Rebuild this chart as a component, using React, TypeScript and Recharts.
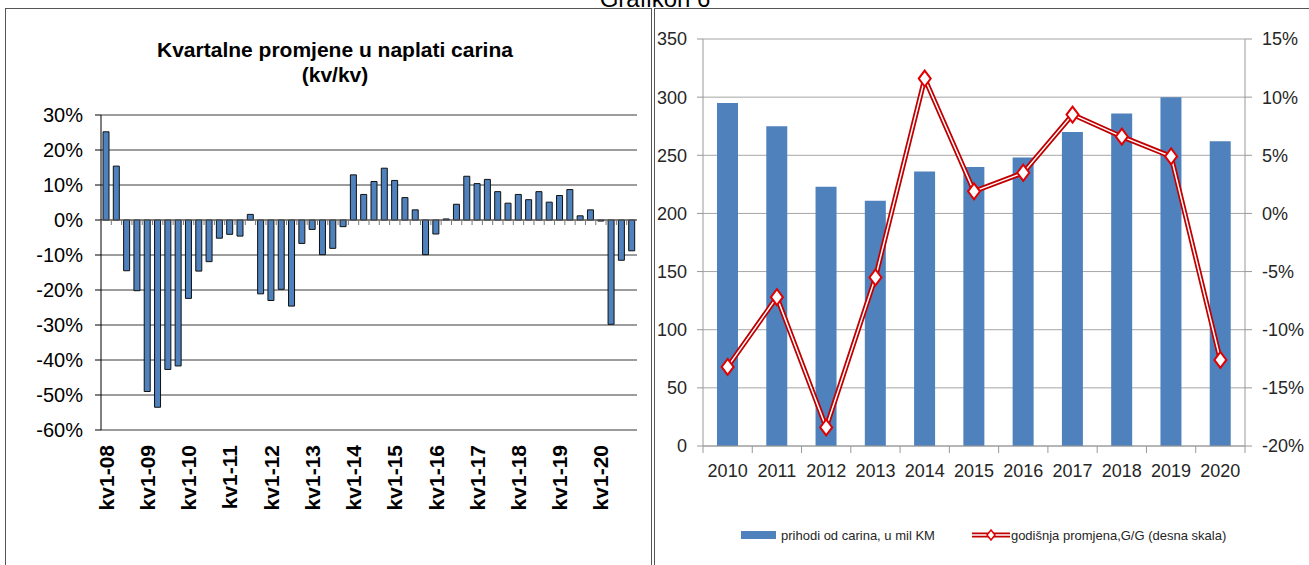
import {
  Bar,
  BarChart,
  CartesianGrid,
  ComposedChart,
  Line,
  ReferenceLine,
  XAxis,
  YAxis,
} from 'recharts'

// left chart: quarterly change, kv/kv (%)
const qYears = ['08', '09', '10', '11', '12', '13', '14', '15', '16', '17', '18', '19', '20']
const qNums = [1, 2, 3, 4]
const qChange = [
  25.2, 15.4, -14.5, -20.2,
  -49.0, -53.5, -42.7, -41.7,
  -22.4, -14.6, -11.9, -5.2,
  -4.1, -4.6, 1.6, -21.1,
  -23.0, -19.8, -24.6, -6.7,
  -2.7, -9.9, -8.1, -1.9,
  12.9, 7.3, 11.0, 14.8,
  11.3, 6.4, 2.9, -9.9,
  -4.0, 0.3, 4.5, 12.5,
  10.4, 11.6, 8.1, 4.8,
  7.3, 5.8, 8.1, 5.1,
  7.0, 8.7, 1.2, 2.9,
  -0.3, -29.8, -11.5, -8.8,
]
const leftTicks = [30, 20, 10, 0, -10, -20, -30, -40, -50, -60]

// right chart: yearly customs revenue + y/y change
const years = ['2010', '2011', '2012', '2013', '2014', '2015', '2016', '2017', '2018', '2019', '2020']
const revenue = [295, 275, 223, 211, 236, 240, 248, 270, 286, 300, 262]
const yoy = [-13.2, -7.2, -18.4, -5.5, 11.6, 1.9, 3.5, 8.5, 6.6, 4.9, -12.6]
const revTicks = [0, 50, 100, 150, 200, 250, 300, 350]
const pctTicks = [-20, -15, -10, -5, 0, 5, 10, 15]

const quarterData = qYears
  .flatMap((y) => qNums.map((q) => `kv${q}-${y}`))
  .map((q, i) => ({ q, v: qChange[i] }))

const yearData = years.map((year, i) => ({ year, rev: revenue[i], chg: yoy[i] }))

const ARIAL = '"Liberation Sans", Arial, sans-serif'
const BLUE = '#4F81BD'
const RED = '#C00000'

const ZERO_Y = 220
const Q_BAND = 536 / 52
const Y_BAND = 542 / 11
const RIGHT_AXIS_Y = 446

function QuarterTick(props: any) {
  const { x, payload, index } = props
  const bx = x - Q_BAND / 2
  return (
    <g>
      <line x1={bx} x2={bx} y1={ZERO_Y} y2={ZERO_Y + 5} stroke="#777" />
      {index % 4 === 0 && (
        <text
          x={x}
          y={445}
          transform={`rotate(-90, ${x}, 445)`}
          textAnchor="end"
          dominantBaseline="central"
          fontFamily={ARIAL}
          fontWeight="bold"
          fontSize={21}
          fill="#000"
        >
          {payload.value}
        </text>
      )}
    </g>
  )
}

function YearTick(props: any) {
  const { x, payload, index } = props
  const bx = x - Y_BAND / 2
  return (
    <g>
      <line x1={bx} x2={bx} y1={RIGHT_AXIS_Y} y2={RIGHT_AXIS_Y + 7} stroke="#999" />
      {index === years.length - 1 && (
        <line
          x1={x + Y_BAND / 2}
          x2={x + Y_BAND / 2}
          y1={RIGHT_AXIS_Y}
          y2={RIGHT_AXIS_Y + 7}
          stroke="#999"
        />
      )}
      <text x={x} y={477} textAnchor="middle" fontFamily={ARIAL} fontSize={18} fill="#262626">
        {payload.value}
      </text>
    </g>
  )
}

function Diamond(props: any) {
  const { cx, cy } = props
  if (cx == null || cy == null) return null
  return (
    <path
      d={`M${cx},${cy - 8} L${cx + 6},${cy} L${cx},${cy + 8} L${cx - 6},${cy} Z`}
      fill="#fff"
      stroke="#E00000"
      strokeWidth={2}
    />
  )
}

function QuarterlyChart() {
  return (
    <div style={{ position: 'absolute', left: 0, top: 0 }}>
      <BarChart
        width={652}
        height={565}
        data={quarterData}
        margin={{ top: 115, right: 15, bottom: 35, left: 41 }}
      >
        <CartesianGrid horizontal vertical={false} stroke="#3a3a3a" />
        <XAxis
          dataKey="q"
          height={100}
          interval={0}
          tickLine={false}
          axisLine={{ stroke: '#999' }}
          tick={<QuarterTick />}
        />
        <YAxis
          domain={[-60, 30]}
          ticks={leftTicks}
          width={60}
          tickSize={6}
          tickMargin={12}
          axisLine={{ stroke: '#000' }}
          tickLine={{ stroke: '#000' }}
          tickFormatter={(v) => `${v}%`}
          tick={{ fontFamily: ARIAL, fontSize: 20, fill: '#000' }}
        />
        <YAxis
          yAxisId="frame"
          orientation="right"
          domain={[-60, 30]}
          width={0}
          tick={false}
          tickLine={false}
          axisLine={{ stroke: '#999' }}
        />
        <ReferenceLine y={0} stroke="#666" />
        <Bar
          dataKey="v"
          fill={BLUE}
          stroke="#111"
          strokeWidth={1}
          barSize={6}
          isAnimationActive={false}
        />
      </BarChart>
      <div
        style={{
          position: 'absolute',
          left: 135,
          width: 400,
          top: 37,
          textAlign: 'center',
          fontFamily: ARIAL,
          fontWeight: 'bold',
          fontSize: 21,
          lineHeight: '25px',
          color: '#000',
        }}
      >
        Kvartalne promjene u naplati carina
        <br />
        (kv/kv)
      </div>
    </div>
  )
}

function YearlyChart() {
  return (
    <div style={{ position: 'absolute', left: 655, top: 0 }}>
      <ComposedChart
        width={654}
        height={565}
        data={yearData}
        margin={{ top: 39, right: 0, bottom: 79, left: 8 }}
      >
        <CartesianGrid yAxisId="left" horizontal vertical={false} stroke="#a6a6a6" />
        <XAxis
          dataKey="year"
          height={40}
          interval={0}
          tickLine={false}
          axisLine={{ stroke: '#999' }}
          tick={<YearTick />}
        />
        <YAxis
          yAxisId="left"
          domain={[0, 350]}
          ticks={revTicks}
          width={40}
          tickSize={6}
          tickMargin={10}
          axisLine={{ stroke: '#999' }}
          tickLine={{ stroke: '#999' }}
          tick={{ fontFamily: ARIAL, fontSize: 18, fill: '#262626' }}
        />
        <YAxis
          yAxisId="right"
          orientation="right"
          domain={[-20, 15]}
          ticks={pctTicks}
          width={64}
          tickSize={7}
          tickMargin={10}
          axisLine={{ stroke: '#999' }}
          tickLine={{ stroke: '#999' }}
          tickFormatter={(v) => `${v}%`}
          tick={{ fontFamily: ARIAL, fontSize: 18, fill: '#262626', textAnchor: 'start' }}
        />
        <Bar yAxisId="left" dataKey="rev" fill={BLUE} barSize={21} isAnimationActive={false} />
        <Line
          yAxisId="right"
          dataKey="chg"
          stroke={RED}
          strokeWidth={5}
          dot={false}
          activeDot={false}
          isAnimationActive={false}
        />
        <Line
          yAxisId="right"
          dataKey="chg"
          stroke="#fff"
          strokeWidth={1.5}
          dot={<Diamond />}
          activeDot={false}
          isAnimationActive={false}
        />
      </ComposedChart>
      <div
        style={{
          position: 'absolute',
          top: 527,
          left: 86,
          display: 'flex',
          alignItems: 'center',
          fontFamily: ARIAL,
          fontSize: 13,
          color: '#262626',
          whiteSpace: 'nowrap',
        }}
      >
        <svg width={36} height={16}>
          <rect x={0} y={4} width={35} height={8} fill={BLUE} />
        </svg>
        <span style={{ marginLeft: 4 }}>prihodi od carina, u mil KM</span>
        <svg width={40} height={16} style={{ marginLeft: 36 }}>
          <line x1={1} x2={39} y1={8} y2={8} stroke={RED} strokeWidth={5} />
          <line x1={1} x2={39} y1={8} y2={8} stroke="#fff" strokeWidth={1.5} />
          <path d="M20,3 L24,8 L20,13 L16,8 Z" fill="#fff" stroke="#E00000" strokeWidth={1.5} />
        </svg>
        <span>godišnja promjena,G/G (desna skala)</span>
      </div>
    </div>
  )
}

export default function App() {
  return (
    <div
      style={{
        position: 'absolute',
        left: 0,
        top: 0,
        width: 1309,
        height: 565,
        overflow: 'hidden',
        background: '#fff',
      }}
    >
      <div
        style={{
          position: 'absolute',
          left: 5,
          top: 8,
          width: 645,
          height: 570,
          border: '1px solid #555',
        }}
      />
      <div
        style={{
          position: 'absolute',
          left: 654,
          top: 8,
          width: 670,
          height: 570,
          border: '1px solid #555',
        }}
      />
      <QuarterlyChart />
      <YearlyChart />
      <div
        style={{
          position: 'absolute',
          left: 555,
          width: 200,
          top: -15,
          textAlign: 'center',
          fontFamily: ARIAL,
          fontSize: 24,
          color: '#000',
        }}
      >
        Grafikon 6
      </div>
    </div>
  )
}
